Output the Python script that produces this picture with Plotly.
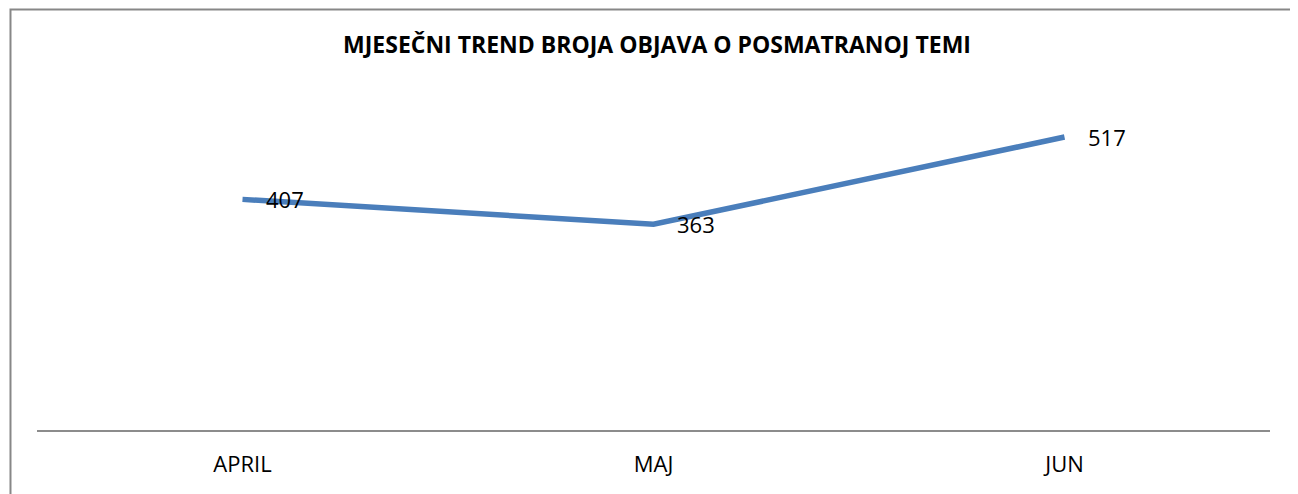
import plotly.graph_objects as go

# chart data
months = ['APRIL', 'MAJ', 'JUN']
posts = [407, 363, 517]

TITLE = 'MJESEČNI TREND BROJA OBJAVA O POSMATRANOJ TEMI'
LINE_COLOR = '#4A7EBB'
FONT = 'Open Sans'

fig = go.Figure()

fig.add_trace(go.Scatter(
    x=months,
    y=posts,
    mode='lines',
    line=dict(color=LINE_COLOR, width=5.5),
    showlegend=False,
    hoverinfo='skip',
))

# data labels to the right of each point
for m, v in zip(months, posts):
    fig.add_annotation(
        x=m, y=v, text=str(v),
        showarrow=False,
        xanchor='left', yanchor='middle',
        xshift=21,
        font=dict(family=FONT, size=22, color='black'),
    )

# outer chart border (only left and top edges fall inside the window)
fig.add_shape(
    type='rect', xref='paper', yref='paper',
    x0=-0.0215, x1=1.04, y0=-0.3, y1=1.237,
    line=dict(color='#878787', width=2),
    layer='above',
)

fig.update_layout(
    width=1298,
    height=494,
    title=dict(
        text='<b>' + TITLE + '</b>',
        x=0.5, xanchor='center',
        y=0.926, yanchor='middle',
        font=dict(family=FONT, size=23, color='black'),
    ),
    plot_bgcolor='white',
    paper_bgcolor='white',
    margin=dict(l=29, r=36, t=82, b=72),
)

fig.update_xaxes(
    type='category',
    range=[-0.5, 2.5],
    showline=True, linecolor='#8C8C8C', linewidth=2,
    showgrid=False, zeroline=False,
    ticks='', ticklabelstandoff=14,
    tickfont=dict(family=FONT, size=22, color='black'),
)
fig.update_yaxes(
    range=[0, 600],
    visible=False,
    showgrid=False, zeroline=False,
)

fig.write_html('out.html')
